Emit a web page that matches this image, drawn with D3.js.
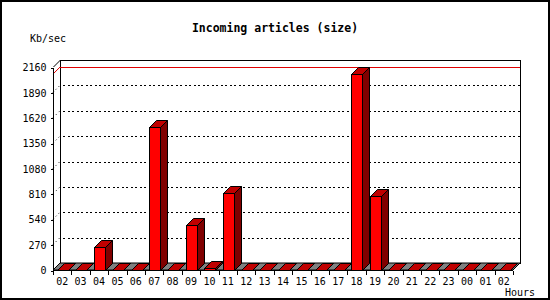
<!DOCTYPE html>
<html>
<head>
<meta charset="utf-8">
<script src="https://cdn.jsdelivr.net/npm/d3@7"></script>
<style>
  html, body { margin: 0; padding: 0; background: #fff; }
  svg { display: block; }
  text { font-family: "DejaVu Sans Mono", "Liberation Mono", monospace; fill: #000; }
</style>
</head>
<body>
<svg id="chart" width="550" height="300"></svg>
<script>
const hours = ["02","03","04","05","06","07","08","09","10","11","12","13","14","15","16","17","18","19","20","21","22","23","00","01","02"];
const values = [0,0,240,0,0,1520,0,480,20,815,0,0,0,0,0,0,2085,790,0,0,0,0,0,0,0];
const yTicks = [0,270,540,810,1080,1350,1620,1890,2160];
const titleText = "Incoming articles (size)";
const yUnit = "Kb/sec";
const xUnit = "Hours";

(function () {
const svg = d3.select("#chart");
const W = 550, H = 300;
const D = 7; // 3D depth
const left = 53, right = 513, base = 270, plotTop = 67;

const x = d3.scaleBand().domain(d3.range(hours.length)).range([left, right]).paddingInner(0).paddingOuter(0);
const y = d3.scaleLinear().domain([0, 2160]).range([base, plotTop]);

// outer frame
svg.append("rect").attr("x", 1).attr("y", 1).attr("width", W - 2).attr("height", H - 2)
  .attr("fill", "#fff").attr("stroke", "#000").attr("stroke-width", 2);

// title
svg.append("text").attr("x", 275).attr("y", 32).attr("text-anchor", "middle")
  .style("font-size", "11.5px").style("font-weight", "bold").text(titleText);
svg.append("text").attr("x", 30).attr("y", 42).style("font-size", "10px").text(yUnit);
svg.append("text").attr("x", 505).attr("y", 296).style("font-size", "10px").text(xUnit);

const g = svg.append("g");

// back plane
g.append("rect").attr("x", left + D + 0.5).attr("y", y(2160) - D + 0.5)
  .attr("width", right - left).attr("height", base - y(2160))
  .attr("fill", "#fff").attr("stroke", "#000").attr("stroke-width", 1).attr("shape-rendering", "crispEdges");

// grid lines on back plane
const inner = yTicks.filter(v => v > 0 && v < 2160);
g.selectAll(".grid").data(inner).join("line")
  .attr("x1", left + D + 3).attr("x2", right + D)
  .attr("y1", v => Math.round(y(v) - D) + 0.5).attr("y2", v => Math.round(y(v) - D) + 0.5)
  .attr("stroke", "#000").attr("stroke-dasharray", "2,2.5").attr("shape-rendering", "crispEdges");
// left wall diagonal ticks
g.selectAll(".wall").data(inner).join("line")
  .attr("x1", left).attr("x2", left + D)
  .attr("y1", v => y(v)).attr("y2", v => y(v) - D)
  .attr("stroke", "#000").attr("stroke-dasharray", "1,3");
// top-left diagonal
g.append("line").attr("x1", left + 0.5).attr("y1", y(2160)).attr("x2", left + D + 0.5).attr("y2", y(2160) - D)
  .attr("stroke", "#000");

// max line
const maxV = d3.max(values);
g.append("line").attr("x1", left + D).attr("x2", right + D)
  .attr("y1", Math.round(y(maxV) - D) + 0.5).attr("y2", Math.round(y(maxV) - D) + 0.5)
  .attr("stroke", "#e00000").attr("shape-rendering", "crispEdges");
g.append("line").attr("x1", left).attr("x2", left + D)
  .attr("y1", y(maxV)).attr("y2", y(maxV) - D).attr("stroke", "#e00000");

// floor
g.append("polygon")
  .attr("points", [[left, base], [right, base], [right + D, base - D], [left + D, base - D]].map(p => p.join(",")).join(" "))
  .attr("fill", "#808080").attr("stroke", "#000").attr("stroke-width", 1);

// bars
const bw = 11, off = 4;
const bars = g.selectAll(".bar").data(values.map((v, i) => ({ v, i }))).join("g");
bars.append("polygon") // side
  .attr("points", d => {
    const x0 = Math.round(x(d.i) + off) + 0.5, yt = Math.round(y(d.v)) + 0.5, b = base + 0.5;
    return [[x0 + bw, yt], [x0 + bw + D, yt - D], [x0 + bw + D, b - D], [x0 + bw, b]].map(p => p.join(",")).join(" ");
  })
  .attr("fill", "#800000").attr("stroke", "#000");
bars.append("polygon") // top
  .attr("points", d => {
    const x0 = Math.round(x(d.i) + off) + 0.5, yt = Math.round(y(d.v)) + 0.5;
    return [[x0, yt], [x0 + D, yt - D], [x0 + bw + D, yt - D], [x0 + bw, yt]].map(p => p.join(",")).join(" ");
  })
  .attr("fill", "#c00000").attr("stroke", "#000");
bars.append("rect") // front
  .attr("x", d => Math.round(x(d.i) + off) + 0.5)
  .attr("y", d => Math.round(y(d.v)) + 0.5)
  .attr("width", bw)
  .attr("height", d => base - Math.round(y(d.v)))
  .attr("fill", "#ff0000").attr("stroke", "#000").attr("shape-rendering", "crispEdges");

// y axis
const yAxis = d3.axisLeft(y).tickValues(yTicks).tickSize(3).tickPadding(4).tickFormat(d3.format("d"));
const ya = svg.append("g").attr("transform", `translate(${left + 0.5},0.5)`).call(yAxis);
ya.select(".domain").attr("d", `M0,${y(2160)}V${base}`).attr("shape-rendering", "crispEdges");
ya.selectAll("text").style("font-size", "10px").style("font-family", "'DejaVu Sans Mono', monospace");
ya.selectAll("line").attr("shape-rendering", "crispEdges");

// x axis
const xAxis = d3.axisBottom(x).tickSize(0).tickPadding(7).tickFormat(i => hours[i]);
const xa = svg.append("g").attr("transform", `translate(0,${base + 0.5})`).call(xAxis);
xa.select(".domain").attr("d", `M${left},0H${right}`).attr("shape-rendering", "crispEdges");
xa.selectAll("text").style("font-size", "10px").style("font-family", "'DejaVu Sans Mono', monospace");
xa.selectAll(".bound").data(d3.range(hours.length + 1)).join("line").attr("class", "bound")
  .attr("x1", i => Math.round(left + i * x.step()) + 0.5).attr("x2", i => Math.round(left + i * x.step()) + 0.5)
  .attr("y1", 0).attr("y2", 4).attr("stroke", "#000").attr("shape-rendering", "crispEdges");
})();
</script>
</body>
</html>
